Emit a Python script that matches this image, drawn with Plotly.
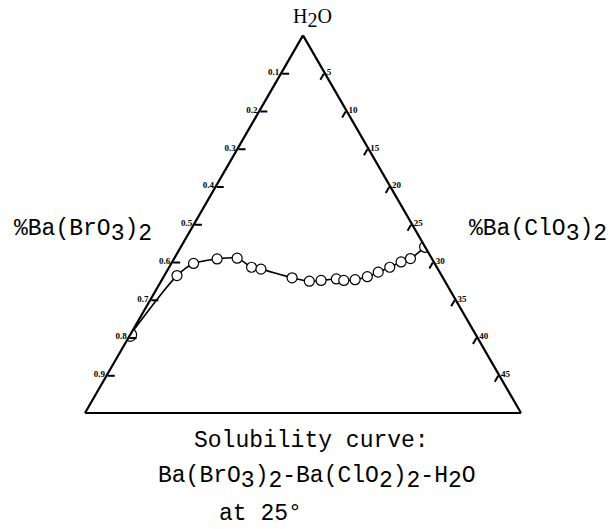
import plotly.graph_objects as go

# Solubility isotherm, Ba(BrO3)2 - Ba(ClO3)2 - H2O at 25 deg (mass fractions)
h2o = [0.207, 0.364, 0.396, 0.408, 0.410, 0.386, 0.381, 0.358, 0.349, 0.351,
       0.355, 0.351, 0.353, 0.361, 0.373, 0.386, 0.400, 0.409, 0.440]
ba_bro3 = [0.793, 0.607, 0.553, 0.493, 0.446, 0.425, 0.406, 0.346, 0.311, 0.283,
           0.246, 0.231, 0.204, 0.172, 0.141, 0.108, 0.075, 0.049, 0.000]
ba_clo3 = [0.000, 0.029, 0.051, 0.099, 0.144, 0.189, 0.213, 0.296, 0.340, 0.366,
           0.399, 0.418, 0.443, 0.467, 0.486, 0.506, 0.525, 0.542, 0.560]

# scale printed along the left side (Ba(BrO3)2 fraction)
left_ticks = [0.1, 0.2, 0.3, 0.4, 0.5, 0.6, 0.7, 0.8, 0.9]
left_labels = ["0.1", "0.2", "0.3", "0.4", "0.5", "0.6", "0.7", "0.8", "0.9"]
# scale printed along the right side (Ba(ClO3)2, full side = 50)
right_ticks = [5, 10, 15, 20, 25, 30, 35, 40, 45]
right_full = 50

W, H = 615, 529
mono = "Liberation Mono"
big = 23


def sub(s, size=big):
    return "<sub><span style='font-size:%dpx'>%s</span></sub>" % (size, s)


sizes = [10] * len(h2o)
sizes[0] = 13
sizes[-1] = 11

fig = go.Figure()
fig.add_trace(go.Scatterternary(
    a=h2o, b=ba_bro3, c=ba_clo3,
    mode="lines+markers",
    line=dict(color="black", width=1.6, shape="spline", smoothing=0.8),
    marker=dict(size=sizes, color="white", opacity=1,
                line=dict(color="black", width=1.2)),
    showlegend=False, hoverinfo="a+b+c",
))

axis_common = dict(
    showline=True, linecolor="black", linewidth=2.2,
    showgrid=False, ticks="inside", ticklen=7, tickwidth=1.6,
    tickcolor="black", min=0, title=dict(text=""),
    tickfont=dict(family="Liberation Serif", size=9, color="black", weight="bold"),
)

x0, x1 = 85, 521
side = x1 - x0
tri_h = side * 3 ** 0.5 / 2
ybase = 413

fig.update_layout(
    width=W, height=H,
    margin=dict(l=0, r=0, t=0, b=0),
    paper_bgcolor="white",
    ternary=dict(
        sum=1,
        bgcolor="white",
        domain=dict(x=[x0 / W, x1 / W], y=[(H - ybase) / H, (H - ybase + tri_h) / H]),
        aaxis=dict(axis_common, tickmode="array",
                   tickvals=[1 - v for v in left_ticks], ticktext=left_labels),
        baxis=dict(axis_common, ticks="", showticklabels=False),
        caxis=dict(axis_common, tickmode="array",
                   tickvals=[v / right_full for v in right_ticks],
                   ticktext=[str(v) for v in right_ticks]),
    ),
)


def note(text, x, y, xanchor="center", size=big, family=mono):
    fig.add_annotation(text=text, x=x / W, y=1 - y / H, xref="paper", yref="paper",
                       xanchor=xanchor, yanchor="middle", showarrow=False,
                       font=dict(family=family, size=size, color="black"))


note("H" + sub("2", 20) + "O", 312, 18, size=20, family="Liberation Serif")
note("%Ba(BrO" + sub("3") + ")" + sub("2"), 154, 232, xanchor="right")
note("%Ba(ClO" + sub("3") + ")" + sub("2"), 467, 232, xanchor="left")
note("Solubility curve:", 311, 441)
note("Ba(BrO" + sub("3") + ")" + sub("2") + "-Ba(ClO" + sub("2") + ")" + sub("2")
     + "-H" + sub("2") + "O", 317, 478)
note("at 25°", 217, 514, xanchor="left")

fig.write_html("out.html")
